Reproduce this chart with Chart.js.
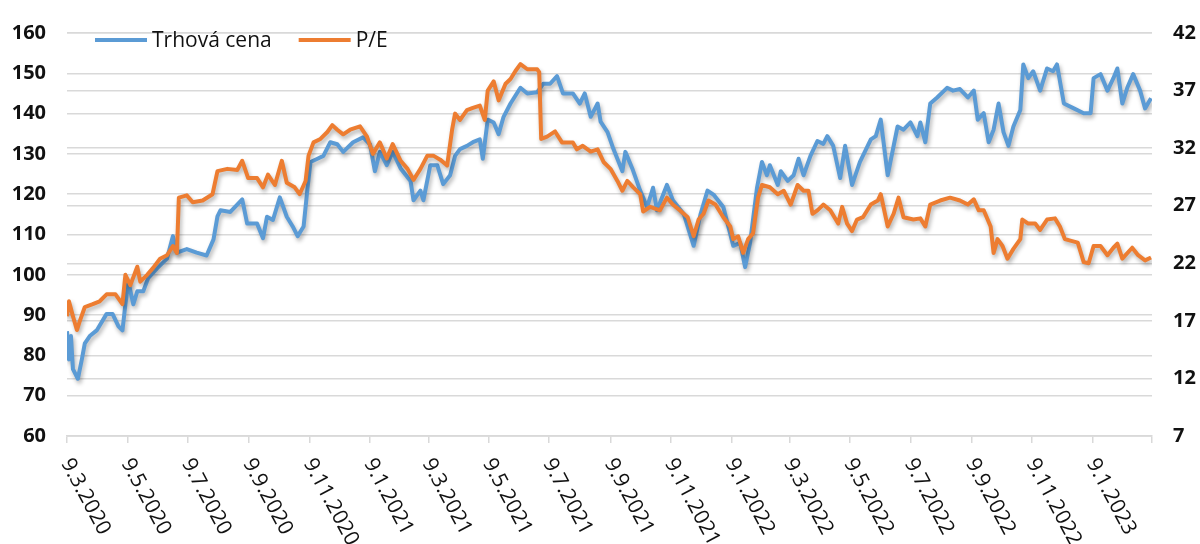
<!DOCTYPE html>
<html>
<head>
<meta charset="utf-8">
<title>Trhová cena a P/E</title>
<script src="https://cdn.jsdelivr.net/npm/chart.js@4.4.1/dist/chart.umd.min.js"></script>
<style>
  html, body { margin: 0; padding: 0; background: #ffffff; }
</style>
</head>
<body>
<canvas id="lineChart" width="1200" height="544"></canvas>
<script>
// DATA - days counted from 9.3.2020
const xTickLabels = ["9.3.2020", "9.5.2020", "9.7.2020", "9.9.2020", "9.11.2020", "9.1.2021",
    "9.3.2021", "9.5.2021", "9.7.2021", "9.9.2021", "9.11.2021", "9.1.2022", "9.3.2022",
    "9.5.2022", "9.7.2022", "9.9.2022", "9.11.2022", "9.1.2023"];

const priceDays = [0,2,4,6,11,15,18,23,30,40, 46,52,56,59,62,67,71,77,82,91,
    101,107,111,121,131,141,148,152,155,165, 177,182,192,198,202,208,215,222,228,233,
    239,243,246,253,259,266,273,279,289,299, 306,311,316,323,329,337,347,350,357,360,
    367,374,380,387,392,397,404,410,417,420, 425,431,436,441,448,458,465,475,481,488,
    495,501,511,518,523,529,536,539,546,552, 561,564,571,579,586,592,596,606,612,623,
    633,640,647,653,663,673,680,685,690,697, 702,707,710,718,721,728,734,739,744,751,
    758,764,768,774,781,786,793,801,812,817, 822,829,839,845,852,859,862,867,872,879,
    889,895,902,910,916,920,926,931,936,941, 946,951,956,963,966,971,976,983,990,996,
    1000,1007,1017,1027,1034,1037,1044,1051,1057,1061, 1066,1071,1077,1084,1089,1095];

const priceValues = [86,79,84.8,76.6,74.2,79,83,84.8,86.2,90.3, 90.3,87.2,86.2,92.7,98.2,92.7,95.9,95.9,99.2,101.6,
    104,109.6,105.5,106.4,105.5,104.8,108.8,114.5,116,115.6, 118.7,112.7,112.7,109.1,114.4,113.6,119.2,114.4,112,109.6,
    112,121.6,128,128.8,129.5,132.9,132.4,130.5,132.9,134.1, 132.4,125.7,130.5,127.2,130.5,126.4,123.3,118.5,120.9,118.5,
    127.2,127.2,122.5,124.7,129.5,131.2,132,132.9,133.6,128.8, 138.5,137.8,134.9,139.2,142.5,146.4,145,145.3,147.4,147.4,
    149.3,145,145,142.5,145,139.2,142.5,138,135.4,131.2, 125.7,130.5,126.4,120.9,116.8,121.6,116,122.3,118.5,115.1,
    107.2,115.1,120.9,119.9,116.8,107.2,107.9,101.9,107.9,121.6, 128,124.7,127.2,122.3,125.7,123.3,124.7,128.8,124.7,129.5,
    133.2,132.5,134.4,132,124,132,122.3,128,133.6,134.4, 138.5,124.7,136.8,136,137.8,134.4,137.8,132.9,142.5,144,
    146.4,145.7,146.1,144,145.7,138.5,140.1,132.9,136,142.5, 135.4,132,136.8,140.9,152.2,148.8,150.5,145.7,151.2,150.5,
    152.2,142.5,141.3,140.1,140.1,148.8,149.8,145.7,148.8,151.2, 142.5,146.4,149.8,145.7,141.3,143.8];

const peDays = [0,2,6,10,13,18,26,33,40,49, 56,59,64,71,74,81,87,94,101,107,
    111,113,121,127,137,147,152,162,172,177, 183,192,198,203,210,217,222,230,235,241,
    244,249,256,263,268,273,279,286,296,303, 309,316,323,329,337,344,350,357,364,370,
    377,384,389,392,397,404,410,417,422,425, 431,436,443,448,453,458,465,475,477,479,
    485,493,500,511,515,521,529,536,542,549, 556,561,566,572,579,582,589,599,606,612,
    619,627,633,638,643,648,655,663,670,673, 678,683,688,693,698,702,710,718,724,731,
    738,744,749,753,758,764,771,779,783,788, 793,798,804,812,819,822,829,835,840,845,
    855,862,867,872,882,892,902,910,916,921, 926,933,936,940,945,950,956,963,965,971,
    978,983,990,998,1003,1008,1021,1027,1032,1037, 1044,1051,1057,1061,1066,1076,1082,1089,1095];

const peValues = [17.4,18.7,17.4,16.2,17.0,18.2,18.45,18.7,19.3,19.3, 18.45,21.0,20.1,21.7,20.4,21.0,21.6,22.4,22.7,23.5,
    22.9,27.7,27.9,27.3,27.45,28.0,30.0,30.2,30.1,30.9, 29.4,29.4,28.6,29.7,28.8,30.9,29.0,28.6,28.0,29.15,
    31.35,32.5,32.8,33.4,34.0,33.6,33.2,33.6,33.9,33.0, 31.5,32.5,31.1,32.35,30.9,30.2,29.25,30.2,31.35,31.35,
    31.0,30.5,33.6,35.0,34.45,35.3,35.5,35.7,34.45,37.0, 37.8,36.15,37.6,38.0,38.7,39.3,38.85,38.85,38.6,32.8,
    33.0,33.45,32.5,32.5,31.9,32.2,31.7,31.9,30.8,30.2, 29.15,28.3,29.15,28.6,28.0,26.5,26.9,26.6,27.7,27.1,
    26.6,26.0,24.35,25.8,26.3,27.45,27.1,26.0,25.2,24.1, 24.35,22.9,24.1,24.6,27.7,28.8,28.6,28.0,28.3,27.1,
    28.8,28.3,28.3,26.3,26.6,27.1,26.6,25.45,26.9,25.45, 24.8,25.8,26.0,27.1,27.45,28.0,25.2,26.3,27.7,26.0,
    25.8,25.9,25.2,27.1,27.45,27.7,27.45,27.1,27.55,26.6, 26.6,25.2,22.9,24.1,23.5,22.4,23.25,24.1,25.8,25.45,
    25.45,24.9,25.8,25.9,25.2,24.1,23.8,22.1,22.0,23.5, 23.5,22.7,23.35,23.7,22.4,23.35,22.7,22.25,22.5];

const START = Date.UTC(2020, 2, 9);
const dayOf = (label) => {
    const [d, m, y] = label.split(".").map(Number);
    return (Date.UTC(y, m - 1, d) - START) / 86400000;
};
const tickDays = xTickLabels.map(dayOf);
const X_MAX = 1096;

const GRID = "#d9d9d9";
const TEXT = "#111111";
const FONT = "'Open Sans'";

// ombre des lignes (comme Excel)
const lineShadow = {
    id: "lineShadow",
    beforeDatasetDraw(chart) {
        const ctx = chart.ctx;
        ctx.save();
        ctx.shadowColor = "rgba(0,0,0,0.3)";
        ctx.shadowBlur = 4;
        ctx.shadowOffsetX = 1.5;
        ctx.shadowOffsetY = 3;
    },
    afterDatasetDraw(chart) {
        chart.ctx.restore();
    }
};

// legende dans la zone du graphique
const legendInside = {
    id: "legendInside",
    afterDatasetsDraw(chart) {
        const { ctx, chartArea } = chart;
        ctx.save();
        ctx.font = "21px " + FONT;
        ctx.textBaseline = "middle";
        let x = chartArea.left + 28;
        const y = 40;
        chart.data.datasets.forEach(ds => {
            ctx.strokeStyle = ds.borderColor;
            ctx.lineWidth = 4;
            ctx.beginPath();
            ctx.moveTo(x, y);
            ctx.lineTo(x + 52, y);
            ctx.stroke();
            ctx.fillStyle = TEXT;
            ctx.fillText(ds.label, x + 57, y + 1);
            x += 57 + ctx.measureText(ds.label).width + 27;
        });
        ctx.restore();
    }
};

// dates en biais sous l'axe
const slantedDates = {
    id: "slantedDates",
    afterDraw(chart) {
        const { ctx, chartArea } = chart;
        const xs = chart.scales.x;
        ctx.save();
        ctx.font = "21px " + FONT;
        ctx.fillStyle = TEXT;
        ctx.textAlign = "left";
        ctx.textBaseline = "middle";
        xTickLabels.forEach((label, i) => {
            ctx.save();
            ctx.translate(xs.getPixelForValue(tickDays[i]) - 1, chartArea.bottom + 24);
            ctx.rotate(62 * Math.PI / 180);
            ctx.fillText(label, 0, 0);
            ctx.restore();
        });
        ctx.restore();
    }
};

const toPoints = (days, values) => days.map((d, i) => ({ x: d, y: values[i] }));

new Chart(document.querySelector("#lineChart").getContext("2d"), {
    type: "line",
    data: {
        datasets: [
            {
                label: "Trhová cena",
                data: toPoints(priceDays, priceValues),
                yAxisID: "y",
                borderColor: "#5B9BD5",
                borderWidth: 4,
                pointRadius: 0,
                tension: 0,
                borderJoinStyle: "round",
                order: 1
            },
            {
                label: "P/E",
                data: toPoints(peDays, peValues),
                yAxisID: "y1",
                borderColor: "#ED7D31",
                borderWidth: 4,
                pointRadius: 0,
                tension: 0,
                borderJoinStyle: "round",
                order: 0
            }
        ]
    },
    options: {
        responsive: false,
        animation: false,
        layout: { padding: { top: 20, left: 0, right: 0, bottom: 0 } },
        plugins: {
            legend: { display: false },
            tooltip: { enabled: false }
        },
        scales: {
            x: {
                type: "linear",
                min: 0,
                max: X_MAX,
                afterBuildTicks: (scale) => {
                    scale.ticks = tickDays.concat([X_MAX]).map(v => ({ value: v }));
                },
                afterFit: (scale) => { scale.height = 108; },
                ticks: { display: false },
                grid: { drawOnChartArea: false, drawTicks: true, tickLength: 7, color: GRID, lineWidth: 1.5 },
                border: { color: GRID, width: 1.5 }
            },
            y: {
                position: "left",
                min: 60,
                max: 160,
                afterFit: (scale) => { scale.width = 67; },
                ticks: {
                    stepSize: 10,
                    padding: 21,
                    color: TEXT,
                    font: { family: "Open Sans", size: 20, weight: "bold" }
                },
                grid: { color: GRID, lineWidth: 1.5, drawTicks: false },
                border: { display: false }
            },
            y1: {
                position: "right",
                min: 7,
                max: 42,
                afterFit: (scale) => { scale.width = 48; },
                ticks: {
                    stepSize: 5,
                    padding: 21,
                    color: TEXT,
                    font: { family: "Open Sans", size: 20, weight: "bold" }
                },
                grid: { color: GRID, lineWidth: 1.5, drawTicks: false },
                border: { display: false }
            }
        }
    },
    plugins: [lineShadow, legendInside, slantedDates]
});
</script>
</body>
</html>
